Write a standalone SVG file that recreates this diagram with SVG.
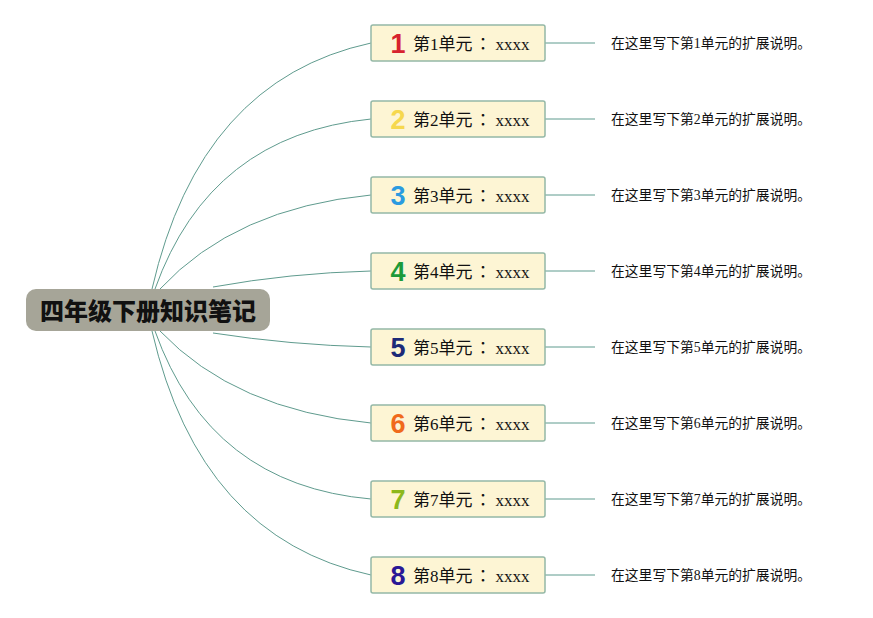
<svg xmlns="http://www.w3.org/2000/svg" width="873" height="618" viewBox="0 0 873 618">
<style>
.bg{fill:#ffffff}
.conn path{fill:none;stroke:#5f9b8e;stroke-width:1}
.node rect{fill:#fdf5d4;stroke:#94b8a6;stroke-width:1.5}
.num{font-family:"Liberation Sans","DejaVu Sans",sans-serif;font-weight:bold;font-size:27px;text-anchor:middle}
.lbl{font-family:"Liberation Serif","Noto Sans CJK SC",serif;font-size:17px;fill:#111}
.col{font-family:"Noto Sans CJK JP",sans-serif}
.desc{font-family:"Liberation Serif","Noto Sans CJK SC",serif;font-size:13.8px;fill:#111}
.root rect{fill:#a6a598}
.root text{font-family:"Noto Sans CJK SC",sans-serif;font-weight:900;font-size:24px;fill:#111;text-anchor:middle}
</style>
<rect class="bg" x="0" y="0" width="873" height="618"/>
<g id="connectors" class="conn">
<path d="M152 289 Q200 80 371 43"/>
<path d="M155 289 Q210 135 371 119"/>
<path d="M160 289 Q235 208 371 195"/>
<path d="M213 287 Q290 273 371 271"/>
<path d="M213 333 Q290 345 371 347"/>
<path d="M160 331 Q235 410 371 423"/>
<path d="M155 331 Q210 485 371 499"/>
<path d="M152 331 Q200 538 371 575"/>
<path d="M545 43 H595"/>
<path d="M545 119 H595"/>
<path d="M545 195 H595"/>
<path d="M545 271 H595"/>
<path d="M545 347 H595"/>
<path d="M545 423 H595"/>
<path d="M545 499 H595"/>
<path d="M545 575 H595"/>
</g>
<g id="root" class="root">
<rect x="26" y="289" width="244" height="42" rx="10"/>
<text x="148" y="320">四年级下册知识笔记</text>
</g>
<g id="n1" class="node"><rect x="371" y="25" width="174" height="36" rx="2"/><text class="num" x="398" y="53" fill="#d7232e">1</text><text class="lbl" x="413" y="50">第1单元<tspan class="col" dx="2">：</tspan><tspan dx="4">xxxx</tspan></text><text class="desc" x="611" y="48">在这里写下第1单元的扩展说明。</text></g>
<g id="n2" class="node"><rect x="371" y="101" width="174" height="36" rx="2"/><text class="num" x="398" y="129" fill="#f6d84e">2</text><text class="lbl" x="413" y="126">第2单元<tspan class="col" dx="2">：</tspan><tspan dx="4">xxxx</tspan></text><text class="desc" x="611" y="124">在这里写下第2单元的扩展说明。</text></g>
<g id="n3" class="node"><rect x="371" y="177" width="174" height="36" rx="2"/><text class="num" x="398" y="205" fill="#2b9be0">3</text><text class="lbl" x="413" y="202">第3单元<tspan class="col" dx="2">：</tspan><tspan dx="4">xxxx</tspan></text><text class="desc" x="611" y="200">在这里写下第3单元的扩展说明。</text></g>
<g id="n4" class="node"><rect x="371" y="253" width="174" height="36" rx="2"/><text class="num" x="398" y="281" fill="#1d9a3a">4</text><text class="lbl" x="413" y="278">第4单元<tspan class="col" dx="2">：</tspan><tspan dx="4">xxxx</tspan></text><text class="desc" x="611" y="276">在这里写下第4单元的扩展说明。</text></g>
<g id="n5" class="node"><rect x="371" y="329" width="174" height="36" rx="2"/><text class="num" x="398" y="357" fill="#1d2a78">5</text><text class="lbl" x="413" y="354">第5单元<tspan class="col" dx="2">：</tspan><tspan dx="4">xxxx</tspan></text><text class="desc" x="611" y="352">在这里写下第5单元的扩展说明。</text></g>
<g id="n6" class="node"><rect x="371" y="405" width="174" height="36" rx="2"/><text class="num" x="398" y="433" fill="#f06a1c">6</text><text class="lbl" x="413" y="430">第6单元<tspan class="col" dx="2">：</tspan><tspan dx="4">xxxx</tspan></text><text class="desc" x="611" y="428">在这里写下第6单元的扩展说明。</text></g>
<g id="n7" class="node"><rect x="371" y="481" width="174" height="36" rx="2"/><text class="num" x="398" y="509" fill="#8db81c">7</text><text class="lbl" x="413" y="506">第7单元<tspan class="col" dx="2">：</tspan><tspan dx="4">xxxx</tspan></text><text class="desc" x="611" y="504">在这里写下第7单元的扩展说明。</text></g>
<g id="n8" class="node"><rect x="371" y="557" width="174" height="36" rx="2"/><text class="num" x="398" y="585" fill="#2a1896">8</text><text class="lbl" x="413" y="582">第8单元<tspan class="col" dx="2">：</tspan><tspan dx="4">xxxx</tspan></text><text class="desc" x="611" y="580">在这里写下第8单元的扩展说明。</text></g>
</svg>
